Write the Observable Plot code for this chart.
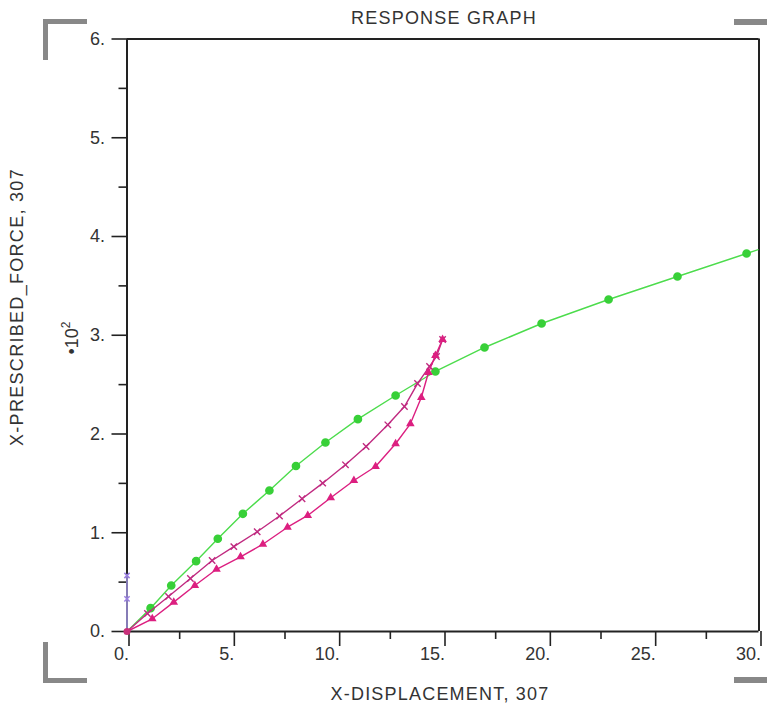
<!DOCTYPE html>
<html><head><meta charset="utf-8">
<script src="https://cdn.jsdelivr.net/npm/d3@7"></script>
<script src="https://cdn.jsdelivr.net/npm/@observablehq/plot@0.6"></script>
<style>body{margin:0;background:#fff} svg{display:block}</style>
</head><body><div id="chart"></div>
<script>
// Green series (circles)
const greenX = [0, 1.12, 2.10, 3.28, 4.31, 5.50, 6.76, 8.02, 9.42, 10.96, 12.75, 14.64, 16.97, 19.68, 22.86, 26.13, 29.41, 32.70];
const greenY = [0, 23.6, 46.6, 71.2, 93.9, 119.2, 142.8, 167.6, 191.4, 215.0, 239.0, 263.3, 287.6, 311.9, 336.2, 359.5, 382.8, 406.0];
// Upper magenta series (cross markers)
const upperX = [0, 0.97, 1.97, 3.01, 4.04, 5.07, 6.18, 7.24, 8.31, 9.29, 10.37, 11.35, 12.38, 13.17, 13.79, 14.36, 14.69, 14.98];
const upperY = [0, 18.2, 35.4, 53.7, 71.9, 86.0, 101.0, 117.0, 134.4, 150.2, 168.8, 187.3, 209.3, 227.8, 251.1, 268.4, 278.5, 295.7];
// Lower magenta series (filled markers)
const lowerX = [0, 1.20, 2.22, 3.22, 4.25, 5.39, 6.45, 7.62, 8.58, 9.67, 10.77, 11.80, 12.75, 13.45, 13.97, 14.31, 14.64, 14.98];
const lowerY = [0, 12.9, 29.7, 46.6, 63.0, 75.6, 88.4, 105.6, 117.5, 135.4, 152.9, 167.1, 190.1, 210.3, 237.0, 262.3, 279.5, 295.7];
// Lavender series on the y axis
const lavX = [0, 0, 0];
const lavY = [0, 33.1, 56.7];

const xMajor = [0, 5, 10, 15, 20, 25, 30];
const xMinor = [2.5, 7.5, 12.5, 17.5, 22.5, 27.5];
const yMajor = [0, 100, 200, 300, 400, 500, 600];
const yMinor = [50, 150, 250, 350, 450, 550];

const rows = (xs, ys) => xs.map((x, i) => ({x, y: ys[i]}));
const green = rows(greenX, greenY);
const upper = rows(upperX, upperY);
const lower = rows(lowerX, lowerY);
const lav = rows(lavX, lavY);

const chart = Plot.plot({
  width: 767, height: 712,
  marginLeft: 126.5, marginRight: 8.5, marginTop: 38.5, marginBottom: 81,
  x: {domain: [0, 30], label: null},
  y: {domain: [0, 600], label: null},
  style: {fontFamily: "'Liberation Sans', Arial, sans-serif", fontSize: "18px", color: "#222", background: "#fff", overflow: "visible"},
  marks: [
    Plot.axisX({ticks: xMinor, tickSize: 8, tickFormat: () => "", strokeWidth: 1.6, label: null}),
    Plot.axisX({ticks: xMajor, tickSize: 15, tickPadding: 1, tickFormat: d => d + ".", textAnchor: "end", dx: 2, strokeWidth: 1.6, label: null, fill: "#333"}),
    Plot.axisY({ticks: yMinor, tickSize: 8, tickFormat: () => "", strokeWidth: 1.6, label: null}),
    Plot.axisY({ticks: yMajor, tickSize: 15, tickPadding: 7, tickFormat: d => (d / 100) + ".", strokeWidth: 1.6, label: null, fill: "#333"}),
    Plot.ruleY([0], {stroke: "#222", strokeWidth: 2}),
    Plot.ruleX([0], {stroke: "#222", strokeWidth: 2}),
    Plot.ruleY([600], {stroke: "#222", strokeWidth: 2}),
    Plot.ruleX([30], {stroke: "#222", strokeWidth: 2}),
    Plot.line(lav, {x: "x", y: "y", stroke: "#a99be8", strokeWidth: 1.5}),
    Plot.dot(lav.slice(1), {x: "x", y: "y", symbol: "times", r: 2.5, stroke: "#9a7fe0", strokeWidth: 1.5}),
    Plot.line(green, {x: "x", y: "y", stroke: "#4cdc4c", strokeWidth: 1.4, clip: true}),
    Plot.dot(green.slice(1), {x: "x", y: "y", r: 3.6, fill: "#38d038", stroke: "#38d038", clip: true}),
    Plot.line(upper, {x: "x", y: "y", stroke: "#c02a80", strokeWidth: 1.4}),
    Plot.dot(upper.slice(1), {x: "x", y: "y", symbol: "times", r: 3, stroke: "#c02a80", strokeWidth: 1.4}),
    Plot.line(lower, {x: "x", y: "y", stroke: "#dc1f80", strokeWidth: 1.4}),
    Plot.dot(lower.slice(1), {x: "x", y: "y", symbol: "triangle", r: 3.2, fill: "#dc1f80"}),
    Plot.dot([{x: 0, y: 0}], {x: "x", y: "y", r: 3.5, fill: "#c8307a"})
  ]
});

document.getElementById("chart").appendChild(chart);
const svg = d3.select(chart);

// corner brackets
const g = svg.append("g").attr("fill", "#888");
[[43, 19, 44, 5], [43, 19, 5, 41], [43, 678, 44, 5], [43, 642, 5, 41], [734, 19, 33, 6], [734, 677, 33, 6]]
  .forEach(([x, y, w, h]) => g.append("rect").attr("x", x).attr("y", y).attr("width", w).attr("height", h));

const t = svg.append("g").attr("fill", "#333").attr("font-family", "'Liberation Sans', Arial, sans-serif").attr("font-size", 18);
t.append("text").attr("x", 444).attr("y", 24).attr("text-anchor", "middle").attr("letter-spacing", 1.2).text("RESPONSE GRAPH");
t.append("text").attr("x", 440).attr("y", 700).attr("text-anchor", "middle").attr("letter-spacing", 1.2).text("X-DISPLACEMENT, 307");
t.append("text").attr("transform", "translate(23,307) rotate(-90)").attr("text-anchor", "middle").attr("letter-spacing", 1.3).text("X-PRESCRIBED_FORCE, 307");
const p = t.append("text").attr("transform", "translate(78,338) rotate(-90)").attr("text-anchor", "middle").attr("font-size", 18);
p.append("tspan").text("•10");
p.append("tspan").attr("font-size", 12).attr("dy", -8).text("2");
</script>
</body></html>
